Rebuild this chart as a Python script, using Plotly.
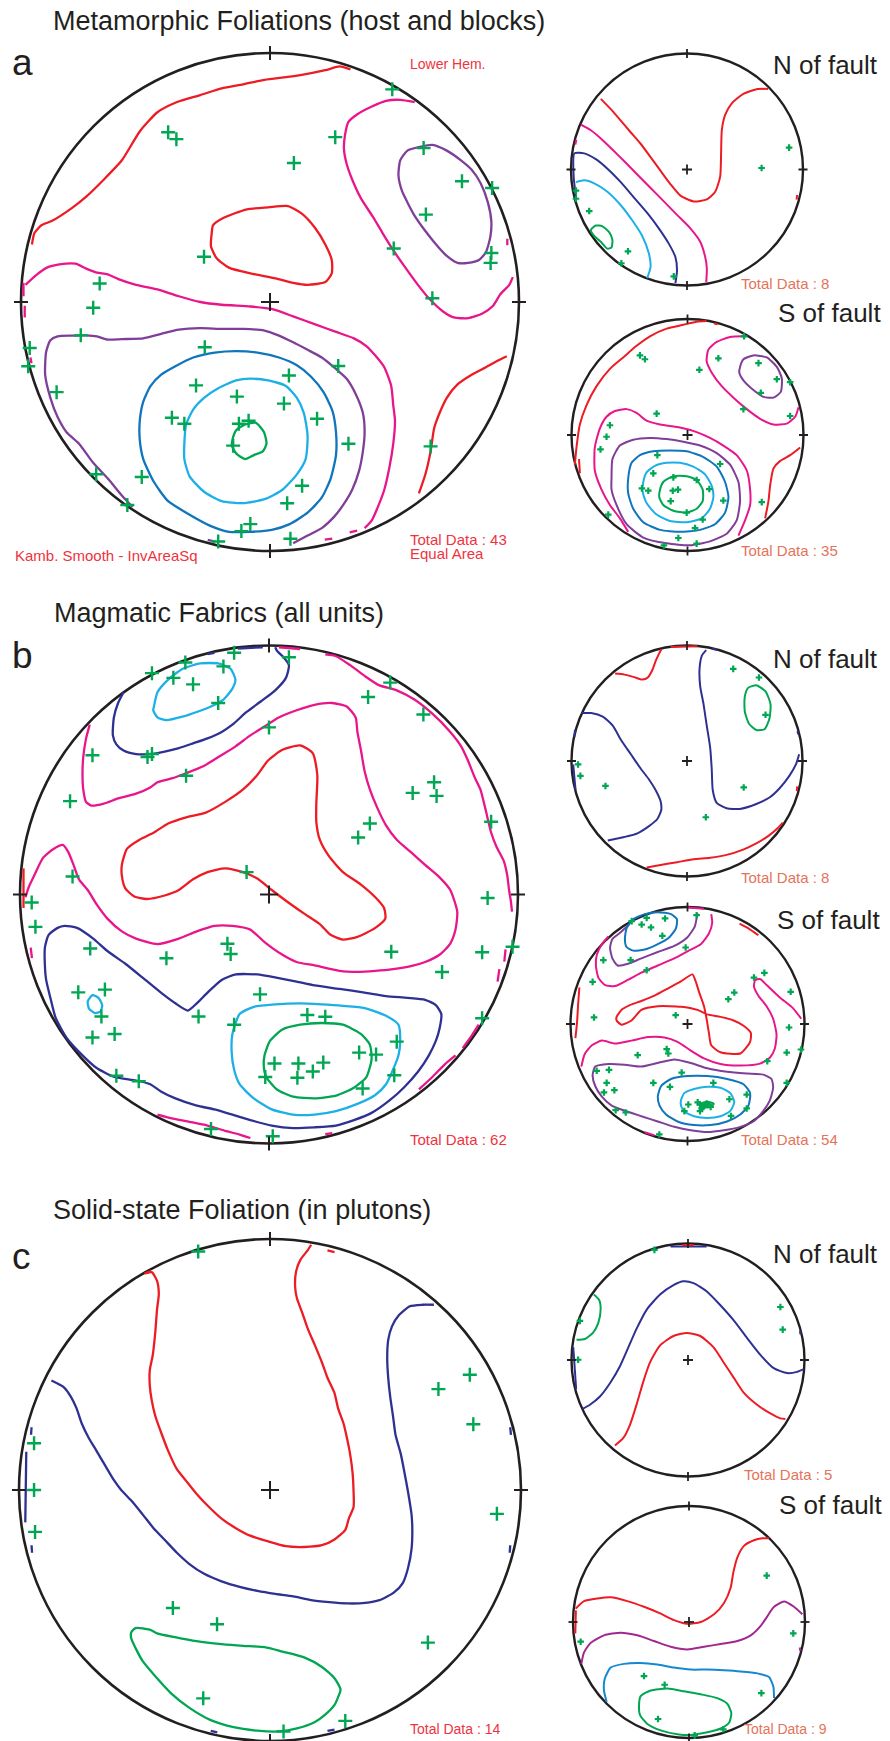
import plotly.graph_objects as go

W, H = 890, 1741

# Colours of the Kamb contour levels and of the data poles
RED = "#ed1c24"
MAGENTA = "#e8168a"
PURPLE = "#7f3f98"
PURPLE2 = "#a1288f"
NAVY = "#2e3192"
BLUE = "#0f75bc"
BLUE2 = "#1488d1"
CYAN = "#1cb0e6"
GREEN = "#00a651"
INK = "#231f20"
NOTE_RED = "#ee3340"
NOTE_ORANGE = "#e5735a"

# ------------------------------------------------------------------
# Net a : metamorphic foliations (all), coordinates in the unit net
# ------------------------------------------------------------------
A_RED_1 = [(-0.956, 0.231), (-0.946, 0.277), (-0.918, 0.308), (-0.875, 0.326), (-0.796, 0.377), (-0.738, 0.423),
           (-0.667, 0.492), (-0.595, 0.569), (-0.523, 0.685), (-0.452, 0.762), (-0.373, 0.803), (-0.280, 0.831),
           (-0.194, 0.858), (-0.108, 0.874), (-0.022, 0.892), (0.065, 0.903), (0.122, 0.911), (0.222, 0.931),
           (0.280, 0.946), (0.323, 0.934)]
A_RED_2 = [(-0.229, 0.308), (-0.186, 0.338), (-0.093, 0.372), (-0.007, 0.380), (0.072, 0.385), (0.129, 0.354),
           (0.179, 0.300), (0.222, 0.231), (0.248, 0.169), (0.248, 0.115), (0.222, 0.080), (0.151, 0.069),
           (0.093, 0.077), (0.022, 0.095), (-0.079, 0.115), (-0.165, 0.138), (-0.215, 0.177), (-0.237, 0.223),
           (-0.234, 0.277)]
A_RED_3 = [(0.598, -0.769), (0.624, -0.692), (0.645, -0.600), (0.659, -0.508), (0.681, -0.446), (0.710, -0.385),
           (0.753, -0.331), (0.810, -0.292), (0.867, -0.262), (0.910, -0.238), (0.951, -0.218)]
A_MAG_1 = [(-0.982, 0.069), (-0.939, 0.108), (-0.896, 0.138), (-0.846, 0.151), (-0.781, 0.154), (-0.738, 0.134),
           (-0.695, 0.118), (-0.652, 0.111), (-0.609, 0.092), (-0.538, 0.069), (-0.452, 0.051), (-0.366, 0.023),
           (-0.280, 0.0), (-0.194, -0.011), (-0.079, -0.018), (0.007, -0.028), (0.093, -0.058), (0.179, -0.089),
           (0.265, -0.120), (0.337, -0.146), (0.387, -0.177), (0.423, -0.215), (0.459, -0.262), (0.487, -0.338),
           (0.495, -0.415), (0.502, -0.477), (0.495, -0.569), (0.480, -0.662), (0.459, -0.754), (0.430, -0.831),
           (0.409, -0.877), (0.380, -0.908)]
A_MAG_2 = [(0.581, 0.803), (0.523, 0.812), (0.466, 0.808), (0.409, 0.785), (0.351, 0.754), (0.315, 0.723),
           (0.301, 0.669), (0.297, 0.615), (0.308, 0.554), (0.330, 0.492), (0.366, 0.415), (0.416, 0.338),
           (0.452, 0.277), (0.495, 0.208), (0.538, 0.146), (0.588, 0.077), (0.638, 0.015), (0.695, -0.038),
           (0.738, -0.062), (0.796, -0.065), (0.853, -0.046), (0.896, -0.015), (0.925, 0.031), (0.961, 0.069),
           (0.975, 0.100)]
A_PUR_1 = [(0.523, 0.569), (0.552, 0.608), (0.602, 0.623), (0.652, 0.631), (0.710, 0.608), (0.767, 0.569),
           (0.810, 0.531), (0.846, 0.477), (0.875, 0.400), (0.889, 0.323), (0.885, 0.262), (0.867, 0.200),
           (0.839, 0.169), (0.796, 0.157), (0.753, 0.157), (0.710, 0.185), (0.667, 0.231), (0.624, 0.285),
           (0.581, 0.346), (0.552, 0.400), (0.530, 0.446), (0.516, 0.508)]
A_PUR_2 = [(-0.552, -0.823), (-0.595, -0.777), (-0.652, -0.708), (-0.710, -0.646), (-0.767, -0.569), (-0.817, -0.523),
           (-0.853, -0.462), (-0.882, -0.385), (-0.903, -0.292), (-0.899, -0.200), (-0.882, -0.154), (-0.853, -0.138),
           (-0.796, -0.135), (-0.738, -0.134), (-0.695, -0.138), (-0.652, -0.151), (-0.595, -0.149), (-0.509, -0.146),
           (-0.437, -0.128), (-0.366, -0.111), (-0.280, -0.105), (-0.194, -0.108), (-0.108, -0.108), (-0.022, -0.115),
           (0.036, -0.135), (0.093, -0.162), (0.151, -0.192), (0.208, -0.223), (0.265, -0.269), (0.308, -0.308),
           (0.344, -0.369), (0.373, -0.446), (0.380, -0.523), (0.373, -0.600), (0.358, -0.677), (0.330, -0.754),
           (0.294, -0.815), (0.258, -0.862), (0.208, -0.908), (0.151, -0.938), (0.093, -0.969)]
A_BLU = [(-0.523, -0.477), (-0.509, -0.400), (-0.480, -0.338), (-0.437, -0.292), (-0.380, -0.258), (-0.308, -0.223),
         (-0.222, -0.203), (-0.136, -0.197), (-0.050, -0.203), (0.036, -0.223), (0.108, -0.254), (0.165, -0.300),
         (0.215, -0.362), (0.251, -0.438), (0.265, -0.523), (0.265, -0.615), (0.244, -0.708), (0.208, -0.785),
         (0.151, -0.846), (0.079, -0.892), (0.007, -0.915), (-0.079, -0.923), (-0.165, -0.923), (-0.237, -0.900),
         (-0.323, -0.854), (-0.409, -0.800), (-0.466, -0.723), (-0.509, -0.631), (-0.523, -0.554)]
A_CYA = [(-0.344, -0.569), (-0.337, -0.492), (-0.308, -0.431), (-0.265, -0.385), (-0.208, -0.346), (-0.136, -0.315),
         (-0.079, -0.308), (-0.007, -0.315), (0.065, -0.338), (0.108, -0.385), (0.136, -0.446), (0.151, -0.538),
         (0.143, -0.631), (0.108, -0.692), (0.050, -0.754), (-0.022, -0.792), (-0.108, -0.808), (-0.194, -0.800),
         (-0.265, -0.762), (-0.323, -0.700), (-0.344, -0.631)]
A_GRN = [(-0.151, -0.554), (-0.136, -0.515), (-0.100, -0.492), (-0.057, -0.485), (-0.024, -0.523), (-0.014, -0.569),
         (-0.029, -0.600), (-0.065, -0.615), (-0.100, -0.631), (-0.136, -0.608), (-0.153, -0.577)]
A_EDGE_MAG = [[(-0.990, 0.077), (-0.990, 0.023)], [(-0.985, -0.015), (-0.985, -0.062)],
              [(-0.962, -0.223), (-0.958, -0.246)], [(0.953, 0.254), (0.953, 0.228)],
              [(0.220, -0.954), (0.250, -0.950)], [(0.320, -0.925), (0.350, -0.918)]]
A_EDGE_PUR = [[(-0.250, -0.955), (-0.220, -0.962)]]
A_POLES = [(0.491, 0.854), (-0.409, 0.682), (-0.376, 0.654), (0.262, 0.662), (0.096, 0.558), (0.617, 0.618),
           (0.771, 0.485), (0.892, 0.458), (0.626, 0.351), (0.497, 0.215), (-0.265, 0.182), (0.889, 0.197),
           (0.886, 0.157), (0.652, 0.015), (-0.684, 0.074), (-0.710, -0.023), (-0.760, -0.134), (-0.965, -0.185),
           (-0.971, -0.258), (-0.857, -0.362), (-0.262, -0.182), (0.076, -0.295), (0.274, -0.257), (-0.297, -0.335),
           (-0.133, -0.380), (0.056, -0.408), (0.189, -0.469), (-0.394, -0.465), (-0.344, -0.489), (-0.125, -0.489),
           (-0.086, -0.477), (-0.148, -0.577), (0.315, -0.569), (0.645, -0.580), (-0.698, -0.692), (-0.515, -0.703),
           (0.129, -0.738), (0.069, -0.808), (-0.573, -0.815), (-0.079, -0.892), (-0.115, -0.920), (-0.208, -0.962),
           (0.082, -0.951)]

# Net a, north of fault
AN_RED = [(-0.743, 0.609), (-0.657, 0.520), (-0.571, 0.421), (-0.486, 0.321), (-0.400, 0.222), (-0.314, 0.106),
          (-0.229, -0.010), (-0.143, -0.126), (-0.057, -0.225), (0.057, -0.275), (0.171, -0.258), (0.243, -0.192),
          (0.286, -0.060), (0.294, 0.139), (0.300, 0.338), (0.329, 0.470), (0.386, 0.570), (0.486, 0.652),
          (0.600, 0.692), (0.700, 0.695)]
AN_MAG = [(-0.914, 0.387), (-0.829, 0.338), (-0.729, 0.255), (-0.643, 0.172), (-0.543, 0.073), (-0.429, -0.043),
          (-0.314, -0.159), (-0.200, -0.275), (-0.086, -0.391), (0.029, -0.507), (0.114, -0.623), (0.157, -0.755),
          (0.171, -0.854), (0.166, -0.970)]
AN_NAV = [(-0.955, -0.250), (-0.977, -0.060), (-0.971, 0.139), (-0.886, 0.139), (-0.786, 0.089), (-0.686, 0.007),
          (-0.571, -0.109), (-0.457, -0.242), (-0.343, -0.374), (-0.243, -0.507), (-0.157, -0.639), (-0.100, -0.755),
          (-0.086, -0.871), (-0.100, -0.980)]
AN_CYA = [(-0.957, -0.109), (-0.886, -0.093), (-0.800, -0.119), (-0.686, -0.192), (-0.571, -0.308), (-0.471, -0.440),
          (-0.386, -0.573), (-0.329, -0.722), (-0.314, -0.838), (-0.343, -0.937)]
AN_GRN = [(-0.829, -0.523), (-0.786, -0.483), (-0.729, -0.490), (-0.671, -0.540), (-0.643, -0.606), (-0.651, -0.672),
          (-0.686, -0.682), (-0.743, -0.623), (-0.800, -0.573)]
AN_EDGE_RED = [[(0.949, -0.220), (0.945, -0.260)]]
AN_EDGE_MAG = [[(-0.955, 0.255), (-0.962, 0.215)]]
AN_POLES = [(0.880, 0.189), (0.643, 0.013), (-0.957, -0.182), (-0.957, -0.252), (-0.843, -0.358), (-0.509, -0.705),
            (-0.566, -0.808), (-0.114, -0.921)]

# Net a, south of fault
AS_RED_1 = [(-0.971, -0.256), (-0.957, -0.107), (-0.928, 0.091), (-0.871, 0.256), (-0.784, 0.421), (-0.669, 0.570),
            (-0.554, 0.669), (-0.439, 0.769), (-0.324, 0.851), (-0.180, 0.917), (-0.036, 0.950), (0.079, 0.977),
            (0.165, 0.983)]
AS_RED_2 = [(0.669, -0.719), (0.698, -0.570), (0.712, -0.438), (0.741, -0.289), (0.799, -0.223), (0.885, -0.174),
            (0.971, -0.107)]
AS_MAG_1 = [(0.482, 0.851), (0.367, 0.845), (0.252, 0.802), (0.180, 0.736), (0.165, 0.636), (0.209, 0.537),
            (0.295, 0.421), (0.396, 0.322), (0.511, 0.223), (0.626, 0.140), (0.741, 0.091), (0.856, 0.098),
            (0.928, 0.157), (0.957, 0.240)]
AS_MAG_2 = [(-0.511, -0.835), (-0.583, -0.719), (-0.669, -0.603), (-0.741, -0.471), (-0.799, -0.306), (-0.799, -0.107),
            (-0.755, 0.058), (-0.698, 0.157), (-0.626, 0.207), (-0.525, 0.223), (-0.439, 0.190), (-0.353, 0.124),
            (-0.237, 0.091), (-0.065, 0.064), (0.079, 0.025), (0.194, -0.025), (0.309, -0.091), (0.424, -0.174),
            (0.511, -0.306), (0.540, -0.471), (0.540, -0.603), (0.496, -0.736), (0.439, -0.868)]
AS_PUR_1 = [(0.453, 0.587), (0.482, 0.653), (0.568, 0.686), (0.683, 0.669), (0.770, 0.587), (0.813, 0.488),
            (0.804, 0.372), (0.741, 0.322), (0.655, 0.329), (0.568, 0.388), (0.482, 0.471), (0.447, 0.537)]
AS_PUR_2 = [(-0.655, -0.372), (-0.647, -0.207), (-0.583, -0.091), (-0.468, -0.041), (-0.324, -0.025), (-0.180, -0.035),
            (-0.036, -0.058), (0.108, -0.091), (0.252, -0.157), (0.367, -0.256), (0.439, -0.405), (0.453, -0.570),
            (0.424, -0.736), (0.338, -0.851), (0.194, -0.917), (0.022, -0.950), (-0.180, -0.934), (-0.381, -0.884),
            (-0.525, -0.769), (-0.612, -0.603), (-0.655, -0.471)]
AS_BLU = [(-0.511, -0.372), (-0.482, -0.240), (-0.410, -0.174), (-0.295, -0.140), (-0.151, -0.134), (-0.007, -0.140),
          (0.137, -0.190), (0.252, -0.273), (0.324, -0.405), (0.353, -0.537), (0.324, -0.669), (0.237, -0.769),
          (0.108, -0.818), (-0.065, -0.835), (-0.237, -0.818), (-0.381, -0.752), (-0.468, -0.636), (-0.511, -0.504)]
AS_CYA = [(-0.381, -0.405), (-0.353, -0.322), (-0.281, -0.266), (-0.180, -0.240), (-0.065, -0.240), (0.050, -0.273),
          (0.151, -0.339), (0.209, -0.438), (0.223, -0.537), (0.194, -0.636), (0.122, -0.719), (-0.007, -0.752),
          (-0.151, -0.742), (-0.266, -0.686), (-0.353, -0.587), (-0.387, -0.488)]
AS_GRN = [(-0.237, -0.471), (-0.209, -0.405), (-0.122, -0.355), (-0.007, -0.355), (0.079, -0.388), (0.131, -0.471),
          (0.131, -0.570), (0.079, -0.636), (-0.007, -0.669), (-0.122, -0.653), (-0.209, -0.603), (-0.243, -0.537)]
AS_EDGE_RED = [[(-0.935, -0.207), (-0.928, -0.330)], [(0.230, 0.962), (0.260, 0.955)]]
AS_POLES = [(-0.410, 0.686), (-0.367, 0.653), (0.102, 0.562), (0.266, 0.661), (0.488, 0.851), (0.612, 0.620),
            (0.770, 0.481), (0.885, 0.455), (0.632, 0.364), (0.482, 0.223), (0.885, 0.164), (-0.266, 0.184),
            (-0.669, 0.084), (-0.698, -0.015), (-0.750, -0.124), (-0.260, -0.174), (0.281, -0.250), (-0.295, -0.331),
            (-0.393, -0.460), (-0.338, -0.480), (-0.122, -0.365), (0.079, -0.388), (-0.127, -0.480), (-0.082, -0.471),
            (-0.145, -0.570), (0.188, -0.466), (0.309, -0.565), (0.640, -0.579), (0.131, -0.729), (0.065, -0.802),
            (-0.683, -0.686), (-0.079, -0.888), (0.079, -0.936), (-0.203, -0.952), (-0.007, -0.669)]

# ------------------------------------------------------------------
# Net b : magmatic fabrics
# ------------------------------------------------------------------
B_RED = [(-0.591, 0.119), (-0.570, 0.184), (-0.520, 0.220), (-0.462, 0.249), (-0.405, 0.285), (-0.333, 0.310),
         (-0.254, 0.329), (-0.176, 0.372), (-0.104, 0.422), (-0.047, 0.480), (-0.004, 0.538), (0.054, 0.581),
         (0.125, 0.599), (0.176, 0.567), (0.194, 0.480), (0.190, 0.365), (0.190, 0.292), (0.204, 0.220),
         (0.240, 0.155), (0.297, 0.090), (0.369, 0.040), (0.427, -0.011), (0.462, -0.054), (0.467, -0.097),
         (0.427, -0.134), (0.355, -0.170), (0.297, -0.181), (0.247, -0.162), (0.204, -0.119), (0.140, -0.076),
         (0.068, -0.025), (0.011, 0.018), (-0.047, 0.064), (-0.104, 0.090), (-0.176, 0.105), (-0.247, 0.090),
         (-0.305, 0.061), (-0.362, 0.018), (-0.419, -0.004), (-0.491, -0.018), (-0.541, -0.008), (-0.577, 0.025),
         (-0.591, 0.076)]
B_MAG_1 = [(-0.720, 0.682), (-0.735, 0.625), (-0.746, 0.552), (-0.749, 0.480), (-0.746, 0.422), (-0.735, 0.372),
           (-0.713, 0.357), (-0.663, 0.365), (-0.606, 0.386), (-0.534, 0.405), (-0.477, 0.430), (-0.448, 0.451),
           (-0.391, 0.466), (-0.333, 0.487), (-0.262, 0.516), (-0.190, 0.560), (-0.133, 0.596), (-0.075, 0.639),
           (-0.018, 0.675), (0.039, 0.711), (0.111, 0.740), (0.183, 0.762), (0.254, 0.769), (0.312, 0.755),
           (0.348, 0.711), (0.355, 0.653), (0.369, 0.581), (0.384, 0.495), (0.405, 0.422), (0.434, 0.350),
           (0.470, 0.278), (0.513, 0.220), (0.570, 0.170), (0.627, 0.119), (0.685, 0.069), (0.728, 0.018),
           (0.756, -0.069), (0.749, -0.141), (0.728, -0.197), (0.685, -0.242), (0.627, -0.271), (0.570, -0.288),
           (0.498, -0.300), (0.427, -0.307), (0.355, -0.311), (0.283, -0.307), (0.183, -0.285), (0.111, -0.271),
           (0.054, -0.242), (-0.018, -0.191), (-0.075, -0.141), (-0.147, -0.126), (-0.219, -0.126), (-0.290, -0.148),
           (-0.362, -0.177), (-0.448, -0.199), (-0.534, -0.177), (-0.591, -0.148), (-0.649, -0.097), (-0.692, -0.040),
           (-0.728, 0.018), (-0.763, 0.061), (-0.785, 0.119), (-0.806, 0.170), (-0.828, 0.199), (-0.864, 0.184),
           (-0.907, 0.148), (-0.943, 0.076), (-0.964, 0.032), (-0.978, -0.011)]
B_MAG_2 = [(0.226, 0.964), (0.269, 0.957), (0.326, 0.921), (0.384, 0.878), (0.441, 0.841), (0.513, 0.820),
           (0.584, 0.783), (0.656, 0.726), (0.728, 0.653), (0.771, 0.596), (0.799, 0.538), (0.828, 0.466),
           (0.849, 0.422), (0.871, 0.336), (0.892, 0.249), (0.914, 0.191), (0.943, 0.134), (0.957, 0.076),
           (0.964, 0.018), (0.971, -0.025), (0.976, -0.069)]
B_MAG_3 = [(0.602, -0.783), (0.656, -0.733), (0.706, -0.682), (0.749, -0.646)]
B_MAG_4 = [(0.778, -0.617), (0.814, -0.567), (0.842, -0.523)]
B_MAG_5 = [(-0.448, -0.884), (-0.391, -0.899), (-0.319, -0.913), (-0.247, -0.928), (-0.176, -0.949), (-0.118, -0.964),
           (-0.075, -0.978)]
B_NAV_1 = [(-0.584, 0.812), (-0.606, 0.769), (-0.623, 0.711), (-0.627, 0.639), (-0.613, 0.603), (-0.584, 0.578),
           (-0.534, 0.564), (-0.477, 0.564), (-0.419, 0.574), (-0.362, 0.588), (-0.305, 0.607), (-0.247, 0.627),
           (-0.190, 0.653), (-0.147, 0.682), (-0.090, 0.733), (-0.032, 0.776), (0.025, 0.820), (0.068, 0.870),
           (0.080, 0.921), (0.061, 0.950), (0.032, 0.979), (0.025, 0.993)]
B_NAV_2 = [(-0.900, -0.285), (-0.900, -0.213), (-0.885, -0.162), (-0.849, -0.134), (-0.821, -0.126), (-0.771, -0.134),
           (-0.706, -0.177), (-0.649, -0.227), (-0.577, -0.278), (-0.505, -0.336), (-0.434, -0.394), (-0.376, -0.437),
           (-0.326, -0.466), (-0.290, -0.437), (-0.247, -0.394), (-0.190, -0.343), (-0.133, -0.321), (-0.047, -0.321),
           (0.039, -0.336), (0.111, -0.350), (0.183, -0.365), (0.283, -0.379), (0.384, -0.394), (0.470, -0.408),
           (0.556, -0.415), (0.627, -0.423), (0.670, -0.444), (0.692, -0.480), (0.685, -0.538), (0.670, -0.588),
           (0.642, -0.646), (0.599, -0.711), (0.541, -0.776), (0.484, -0.827), (0.412, -0.877), (0.341, -0.906),
           (0.269, -0.928), (0.183, -0.935), (0.097, -0.938), (0.011, -0.928), (-0.075, -0.906), (-0.147, -0.884),
           (-0.219, -0.863), (-0.290, -0.848), (-0.376, -0.819), (-0.434, -0.791), (-0.477, -0.762), (-0.534, -0.747),
           (-0.620, -0.733), (-0.692, -0.697), (-0.763, -0.632), (-0.814, -0.574), (-0.857, -0.495), (-0.878, -0.415),
           (-0.895, -0.343)]
B_CYA_1 = [(-0.462, 0.755), (-0.448, 0.812), (-0.405, 0.863), (-0.348, 0.906), (-0.276, 0.928), (-0.204, 0.928),
           (-0.154, 0.906), (-0.135, 0.863), (-0.147, 0.827), (-0.183, 0.783), (-0.233, 0.755), (-0.290, 0.733),
           (-0.348, 0.714), (-0.412, 0.700), (-0.448, 0.711), (-0.465, 0.740)]
B_CYA_2 = [(-0.728, -0.430), (-0.709, -0.404), (-0.685, -0.415), (-0.670, -0.444), (-0.677, -0.470), (-0.699, -0.476),
           (-0.723, -0.458)]
B_CYA_3 = [(-0.147, -0.560), (-0.118, -0.480), (-0.061, -0.451), (0.025, -0.441), (0.125, -0.437), (0.211, -0.441),
           (0.297, -0.447), (0.384, -0.456), (0.470, -0.487), (0.520, -0.523), (0.527, -0.588), (0.520, -0.646),
           (0.498, -0.704), (0.470, -0.762), (0.427, -0.805), (0.355, -0.841), (0.269, -0.870), (0.183, -0.884),
           (0.097, -0.884), (0.011, -0.863), (-0.061, -0.819), (-0.118, -0.762), (-0.140, -0.704), (-0.150, -0.632)]
B_GRN = [(-0.018, -0.646), (0.004, -0.588), (0.054, -0.542), (0.125, -0.523), (0.211, -0.516), (0.297, -0.523),
         (0.369, -0.560), (0.405, -0.603), (0.412, -0.661), (0.391, -0.733), (0.341, -0.776), (0.269, -0.808),
         (0.183, -0.819), (0.097, -0.812), (0.032, -0.783), (-0.011, -0.733), (-0.021, -0.690)]
B_EDGE_NAV = [[(-0.125, 0.988), (-0.025, 0.993)], [(-0.247, 0.965), (-0.219, 0.970)]]
B_EDGE_MAG = [[(0.040, 0.993), (0.125, 0.986)], [(-0.957, -0.213), (-0.952, -0.256)],
              [(0.950, -0.220), (0.945, -0.270)], [(0.925, -0.300), (0.918, -0.350)],
              [(0.226, -0.962), (0.254, -0.958)]]
B_EDGE_RED = [[(-0.986, 0.105), (-0.986, -0.054)]]
B_POLES = [(-0.140, 0.971), (0.080, 0.953), (-0.336, 0.932), (-0.470, 0.889), (-0.384, 0.870), (-0.183, 0.916),
           (-0.305, 0.844), (-0.204, 0.769), (0.487, 0.851), (0.398, 0.793), (0.620, 0.723), (0.000, 0.671),
           (-0.709, 0.559), (-0.488, 0.552), (-0.470, 0.564), (-0.333, 0.477), (-0.799, 0.375), (0.663, 0.451),
           (0.577, 0.408), (0.673, 0.396), (0.892, 0.292), (0.405, 0.285), (0.358, 0.229), (-0.090, 0.090),
           (-0.789, 0.072), (-0.953, -0.032), (0.878, -0.014), (-0.938, -0.130), (0.978, -0.210), (-0.718, -0.217),
           (-0.167, -0.198), (-0.154, -0.239), (-0.412, -0.256), (0.491, -0.230), (0.856, -0.232), (0.695, -0.311),
           (-0.766, -0.393), (-0.659, -0.382), (-0.036, -0.401), (-0.673, -0.490), (-0.283, -0.490), (0.154, -0.484),
           (0.226, -0.491), (-0.140, -0.523), (0.856, -0.497), (-0.709, -0.574), (-0.620, -0.560), (0.513, -0.591),
           (0.362, -0.635), (0.430, -0.643), (0.022, -0.679), (0.118, -0.679), (0.218, -0.675), (0.176, -0.711),
           (-0.015, -0.733), (0.114, -0.736), (0.503, -0.726), (0.376, -0.779), (-0.613, -0.728), (-0.523, -0.750),
           (-0.233, -0.942), (0.015, -0.971)]

# Net b, north of fault
BN_RED_1 = [(-0.623, 0.757), (-0.543, 0.748), (-0.457, 0.726), (-0.386, 0.705), (-0.337, 0.726), (-0.300, 0.788),
            (-0.271, 0.866), (-0.243, 0.928), (-0.223, 0.966)]
BN_RED_2 = [(-0.349, -0.922), (-0.229, -0.900), (-0.086, -0.876), (0.057, -0.851), (0.200, -0.838), (0.343, -0.813),
            (0.486, -0.767), (0.600, -0.714), (0.714, -0.642), (0.786, -0.580), (0.829, -0.533)]
BN_NAV_1 = [(-0.914, 0.415), (-0.829, 0.415), (-0.729, 0.384), (-0.643, 0.306), (-0.571, 0.182), (-0.486, 0.058),
            (-0.400, -0.067), (-0.329, -0.160), (-0.271, -0.253), (-0.229, -0.347), (-0.223, -0.424), (-0.257, -0.502),
            (-0.329, -0.564), (-0.429, -0.626), (-0.543, -0.658), (-0.686, -0.689)]
BN_NAV_2 = [(0.166, 0.960), (0.129, 0.913), (0.109, 0.804), (0.114, 0.649), (0.143, 0.493), (0.171, 0.306),
            (0.200, 0.120), (0.214, -0.067), (0.223, -0.253), (0.257, -0.362), (0.343, -0.409), (0.457, -0.415),
            (0.600, -0.372), (0.714, -0.316), (0.800, -0.238), (0.886, -0.129), (0.943, -0.030), (0.971, 0.058)]
BN_GRN = [(0.500, 0.555), (0.529, 0.633), (0.600, 0.655), (0.680, 0.602), (0.723, 0.493), (0.714, 0.369),
          (0.671, 0.275), (0.600, 0.269), (0.537, 0.322), (0.500, 0.431)]
BN_EDGE_RED = [[(-0.140, 0.988), (0.090, 0.994)], [(0.955, -0.220), (0.950, -0.260)]]
BN_EDGE_NAV = [[(-0.970, 0.270), (-0.975, 0.210)], [(-0.985, -0.030), (-0.965, -0.250)],
               [(0.215, 0.972), (0.260, 0.962)], [(0.957, 0.260), (0.962, 0.230)]]
BN_POLES = [(0.400, 0.798), (0.623, 0.723), (0.680, 0.400), (-0.943, -0.030), (-0.923, -0.129), (-0.706, -0.216),
            (0.491, -0.229), (0.163, -0.487)]

# Net b, south of fault
BS_RED_1 = [(-0.606, 0.061), (-0.563, 0.121), (-0.493, 0.161), (-0.394, 0.197), (-0.282, 0.242), (-0.169, 0.303),
            (-0.056, 0.364), (0.042, 0.424), (0.070, 0.364), (0.099, 0.273), (0.141, 0.152), (0.163, 0.045),
            (0.183, -0.076), (0.203, -0.182), (0.282, -0.242), (0.451, -0.252), (0.535, -0.152), (0.541, -0.076),
            (0.479, -0.015), (0.394, 0.030), (0.282, 0.061), (0.169, 0.082), (0.085, 0.121), (-0.056, 0.148),
            (-0.254, 0.152), (-0.394, 0.121), (-0.479, 0.030), (-0.563, -0.006), (-0.606, 0.030)]
BS_RED_2 = [(-0.924, 0.312), (-0.935, 0.167), (-0.944, 0.015), (-0.958, -0.121)]
BS_RED_3 = [(0.445, 0.858), (0.521, 0.818), (0.606, 0.758)]
BS_MAG_1 = [(0.203, 0.939), (0.211, 0.864), (0.183, 0.773), (0.113, 0.682), (0.000, 0.621), (-0.113, 0.561),
            (-0.254, 0.500), (-0.394, 0.439), (-0.507, 0.379), (-0.620, 0.324), (-0.704, 0.333), (-0.761, 0.394),
            (-0.783, 0.500), (-0.775, 0.591), (-0.732, 0.682), (-0.676, 0.748)]
BS_MAG_2 = [(0.972, 0.045), (0.901, 0.136), (0.789, 0.227), (0.676, 0.333), (0.620, 0.385), (0.577, 0.373),
            (0.569, 0.318), (0.606, 0.242), (0.676, 0.152), (0.732, 0.045), (0.761, -0.091), (0.746, -0.212),
            (0.704, -0.288), (0.620, -0.339), (0.451, -0.355), (0.282, -0.342), (0.141, -0.294), (0.028, -0.227),
            (-0.085, -0.152), (-0.197, -0.115), (-0.338, -0.112), (-0.479, -0.142), (-0.620, -0.167), (-0.732, -0.142),
            (-0.817, -0.182), (-0.879, -0.258), (-0.907, -0.364)]
BS_PUR_1 = [(0.085, 0.948), (0.062, 0.833), (0.000, 0.742), (-0.113, 0.667), (-0.254, 0.615), (-0.394, 0.561),
            (-0.507, 0.515), (-0.597, 0.500), (-0.642, 0.561), (-0.662, 0.652), (-0.642, 0.727), (-0.577, 0.779),
            (-0.501, 0.848)]
BS_PUR_2 = [(-0.811, -0.439), (-0.789, -0.364), (-0.676, -0.342), (-0.535, -0.348), (-0.394, -0.364), (-0.254, -0.333),
            (-0.113, -0.303), (0.028, -0.333), (0.169, -0.379), (0.338, -0.409), (0.507, -0.424), (0.648, -0.433),
            (0.718, -0.470), (0.732, -0.545), (0.704, -0.652), (0.648, -0.742), (0.563, -0.833), (0.451, -0.879),
            (0.310, -0.909), (0.169, -0.924), (0.028, -0.909), (-0.113, -0.879), (-0.254, -0.833), (-0.394, -0.788),
            (-0.535, -0.742), (-0.648, -0.697), (-0.732, -0.621), (-0.789, -0.530)]
BS_BLU_1 = [(-0.535, 0.727), (-0.521, 0.818), (-0.465, 0.894), (-0.366, 0.939), (-0.254, 0.955), (-0.141, 0.939),
            (-0.090, 0.894), (-0.099, 0.818), (-0.155, 0.742), (-0.254, 0.682), (-0.366, 0.636), (-0.465, 0.627),
            (-0.521, 0.658)]
BS_BLU_2 = [(-0.254, -0.621), (-0.225, -0.530), (-0.141, -0.470), (0.000, -0.445), (0.169, -0.445), (0.338, -0.470),
            (0.479, -0.515), (0.535, -0.591), (0.521, -0.697), (0.451, -0.773), (0.338, -0.833), (0.197, -0.864),
            (0.056, -0.864), (-0.085, -0.833), (-0.183, -0.773), (-0.239, -0.697)]
BS_CYA = [(-0.056, -0.652), (-0.028, -0.591), (0.056, -0.555), (0.169, -0.536), (0.282, -0.545), (0.366, -0.591),
          (0.400, -0.667), (0.366, -0.742), (0.282, -0.788), (0.169, -0.803), (0.056, -0.788), (-0.028, -0.748),
          (-0.056, -0.697)]
BS_GRN = [(0.113, -0.682), (0.169, -0.664), (0.225, -0.682), (0.183, -0.712), (0.127, -0.706)]
BS_EDGE_MAG = [[(-0.366, -0.925), (-0.282, -0.952)], [(0.000, 0.995), (0.140, 0.985)]]
BS_POLES = [(-0.477, 0.879), (-0.349, 0.907), (-0.392, 0.850), (-0.192, 0.902), (-0.312, 0.825), (-0.215, 0.754),
            (0.078, 0.930), (-0.016, 0.654), (-0.486, 0.546), (-0.719, 0.546), (-0.349, 0.460), (-0.811, 0.360),
            (0.568, 0.397), (0.657, 0.437), (0.349, 0.212), (0.400, 0.269), (0.882, 0.275), (-0.799, 0.056),
            (-0.101, 0.075), (0.868, -0.030), (-0.178, -0.215), (-0.164, -0.252), (-0.426, -0.266), (0.848, -0.244),
            (0.970, -0.218), (0.682, -0.318), (-0.776, -0.400), (-0.671, -0.392), (-0.050, -0.415), (-0.292, -0.503),
            (-0.150, -0.537), (0.221, -0.503), (-0.691, -0.503), (-0.625, -0.566), (-0.714, -0.585), (0.848, -0.503),
            (0.506, -0.603), (0.358, -0.643), (0.007, -0.688), (0.107, -0.688), (0.150, -0.694), (0.178, -0.688),
            (0.198, -0.708), (0.135, -0.708), (-0.027, -0.745), (0.107, -0.745), (0.372, -0.786), (-0.614, -0.736),
            (-0.528, -0.756), (-0.241, -0.944), (0.506, -0.722), (0.121, -0.722), (0.164, -0.680), (0.087, -0.670)]

# ------------------------------------------------------------------
# Net c : solid-state foliation in plutons
# ------------------------------------------------------------------
C_RED = [(-0.493, 0.864), (-0.471, 0.868), (-0.450, 0.833), (-0.443, 0.780), (-0.450, 0.720), (-0.457, 0.629),
         (-0.467, 0.538), (-0.479, 0.477), (-0.479, 0.417), (-0.471, 0.356), (-0.457, 0.295), (-0.436, 0.235),
         (-0.407, 0.159), (-0.371, 0.083), (-0.329, 0.030), (-0.293, -0.015), (-0.250, -0.061), (-0.193, -0.114),
         (-0.136, -0.152), (-0.079, -0.182), (-0.007, -0.205), (0.064, -0.224), (0.136, -0.227), (0.207, -0.220),
         (0.257, -0.197), (0.300, -0.159), (0.314, -0.114), (0.333, -0.068), (0.333, -0.008), (0.329, 0.068),
         (0.319, 0.144), (0.307, 0.205), (0.293, 0.265), (0.271, 0.326), (0.257, 0.386), (0.229, 0.447),
         (0.207, 0.508), (0.179, 0.576), (0.150, 0.644), (0.129, 0.705), (0.107, 0.765), (0.100, 0.811),
         (0.104, 0.871), (0.121, 0.917), (0.150, 0.955), (0.164, 0.977)]
C_NAV = [(-0.871, 0.436), (-0.821, 0.409), (-0.793, 0.371), (-0.771, 0.326), (-0.750, 0.265), (-0.721, 0.205),
         (-0.693, 0.159), (-0.657, 0.098), (-0.621, 0.038), (-0.593, 0.000), (-0.550, -0.045), (-0.507, -0.098),
         (-0.464, -0.152), (-0.421, -0.197), (-0.371, -0.250), (-0.321, -0.295), (-0.264, -0.333), (-0.193, -0.364),
         (-0.121, -0.386), (-0.050, -0.402), (0.021, -0.414), (0.093, -0.424), (0.164, -0.439), (0.236, -0.447),
         (0.307, -0.452), (0.379, -0.450), (0.436, -0.439), (0.493, -0.409), (0.529, -0.371), (0.550, -0.311),
         (0.564, -0.235), (0.567, -0.159), (0.564, -0.098), (0.550, -0.008), (0.536, 0.068), (0.521, 0.144),
         (0.500, 0.220), (0.490, 0.295), (0.479, 0.371), (0.471, 0.447), (0.467, 0.523), (0.471, 0.598),
         (0.486, 0.652), (0.514, 0.697), (0.557, 0.732), (0.607, 0.738), (0.653, 0.738)]
C_GRN = [(-0.553, -0.568), (-0.536, -0.550), (-0.479, -0.556), (-0.450, -0.571), (-0.379, -0.586), (-0.293, -0.602),
         (-0.193, -0.614), (-0.107, -0.621), (-0.021, -0.626), (0.050, -0.644), (0.136, -0.667), (0.207, -0.705),
         (0.257, -0.750), (0.281, -0.795), (0.271, -0.826), (0.257, -0.856), (0.221, -0.894), (0.179, -0.924),
         (0.107, -0.950), (0.036, -0.962), (-0.050, -0.959), (-0.150, -0.944), (-0.236, -0.917), (-0.321, -0.868),
         (-0.393, -0.811), (-0.450, -0.750), (-0.507, -0.682), (-0.536, -0.629), (-0.553, -0.591)]
C_EDGE_RED = [[(0.229, 0.955), (0.257, 0.948)], [(-0.500, 0.862), (-0.475, 0.872)]]
C_EDGE_NAV = [[(-0.971, 0.152), (-0.975, -0.129)], [(-0.950, 0.250), (-0.952, 0.220)],
              [(-0.950, -0.220), (-0.948, -0.250)], [(0.957, 0.250), (0.960, 0.220)],
              [(0.957, -0.220), (0.955, -0.250)], [(-0.236, -0.960), (-0.210, -0.966)],
              [(0.229, -0.960), (0.257, -0.955)]]
C_POLES = [(-0.286, 0.950), (0.796, 0.459), (0.671, 0.402), (0.810, 0.262), (-0.940, 0.186), (-0.940, 0.000),
           (-0.936, -0.167), (0.904, -0.095), (-0.387, -0.470), (-0.211, -0.535), (0.629, -0.608), (-0.266, -0.830),
           (0.300, -0.920), (0.054, -0.962)]

# Net c, north of fault
CN_NAV = [(-0.905, -0.420), (-0.842, -0.384), (-0.756, -0.313), (-0.670, -0.199), (-0.584, -0.053), (-0.512, 0.109),
          (-0.440, 0.271), (-0.354, 0.433), (-0.240, 0.562), (-0.125, 0.643), (-0.039, 0.676), (0.047, 0.660),
          (0.162, 0.588), (0.276, 0.472), (0.391, 0.342), (0.506, 0.190), (0.621, 0.044), (0.736, -0.070),
          (0.851, -0.112), (0.937, -0.102), (0.994, -0.079)]
CN_RED = [(-0.627, -0.734), (-0.555, -0.669), (-0.498, -0.556), (-0.440, -0.378), (-0.383, -0.183), (-0.326, -0.021),
          (-0.240, 0.125), (-0.125, 0.206), (-0.010, 0.232), (0.105, 0.206), (0.220, 0.109), (0.306, -0.021),
          (0.392, -0.151), (0.478, -0.280), (0.593, -0.384), (0.707, -0.459), (0.793, -0.501), (0.836, -0.507)]
CN_GRN = [(-0.808, 0.562), (-0.762, 0.514), (-0.750, 0.433), (-0.770, 0.319), (-0.813, 0.238), (-0.885, 0.180),
          (-0.957, 0.173)]
CN_EDGE_NAV = [[(-0.150, 0.975), (0.160, 0.975)], [(-0.985, 0.110), (-0.960, -0.250)], [(0.962, 0.250), (0.965, 0.220)]]
CN_EDGE_RED = [[(-0.050, 0.985), (0.050, 0.985)]]
CN_POLES = [(-0.288, 0.945), (0.793, 0.455), (0.813, 0.261), (-0.943, 0.002), (-0.928, 0.336)]

# Net c, south of fault
CS_RED = [(-0.977, 0.115), (-0.905, 0.180), (-0.790, 0.203), (-0.675, 0.213), (-0.532, 0.180), (-0.388, 0.131),
          (-0.244, 0.072), (-0.129, 0.016), (-0.014, -0.016), (0.101, 0.000), (0.216, 0.066), (0.302, 0.164),
          (0.359, 0.295), (0.382, 0.426), (0.417, 0.557), (0.474, 0.656), (0.560, 0.705), (0.632, 0.721),
          (0.690, 0.721)]
CS_PUR = [(-0.928, -0.361), (-0.905, -0.262), (-0.848, -0.180), (-0.733, -0.115), (-0.589, -0.092), (-0.445, -0.115),
          (-0.302, -0.164), (-0.158, -0.213), (-0.014, -0.236), (0.129, -0.213), (0.273, -0.190), (0.417, -0.164),
          (0.532, -0.115), (0.618, -0.033), (0.675, 0.049), (0.733, 0.131), (0.820, 0.177), (0.905, 0.131),
          (0.977, 0.066)]
CS_BLU = [(-0.710, -0.689), (-0.733, -0.590), (-0.727, -0.492), (-0.675, -0.393), (-0.560, -0.361), (-0.417, -0.354),
          (-0.273, -0.367), (-0.129, -0.393), (0.014, -0.410), (0.158, -0.410), (0.302, -0.416), (0.445, -0.426),
          (0.589, -0.443), (0.690, -0.475), (0.727, -0.557), (0.733, -0.656)]
CS_GRN = [(-0.431, -0.721), (-0.417, -0.639), (-0.330, -0.590), (-0.187, -0.574), (-0.043, -0.597), (0.101, -0.623),
          (0.244, -0.656), (0.330, -0.705), (0.365, -0.787), (0.345, -0.869), (0.273, -0.918), (0.158, -0.951),
          (0.014, -0.974), (-0.101, -0.967), (-0.244, -0.934), (-0.359, -0.879), (-0.422, -0.803)]
CS_EDGE_RED = [[(-0.975, 0.100), (-0.980, -0.100)]]
CS_EDGE_PUR = [[(0.955, -0.220), (0.960, -0.250)]]
CS_POLES = [(0.670, 0.400), (0.899, -0.098), (-0.934, -0.170), (-0.388, -0.466), (-0.210, -0.541), (0.624, -0.613),
            (-0.267, -0.836), (0.049, -0.977), (0.296, -0.925)]


def loop(pts):
    return list(pts) + [pts[0]]


# Each net: position (centre x, centre y, radius in px), contour lines, edge pieces, poles
NETS = [
    dict(pos=(270, 302, 249), big=True, poles=A_POLES,
         lines=[(A_RED_1, RED), (loop(A_RED_2), RED), (A_RED_3, RED), (A_MAG_1, MAGENTA), (A_MAG_2, MAGENTA),
                (loop(A_PUR_1), PURPLE), (A_PUR_2, PURPLE), (loop(A_BLU), BLUE), (loop(A_CYA), CYAN),
                (loop(A_GRN), GREEN)],
         edges=[(A_EDGE_MAG, MAGENTA), (A_EDGE_PUR, PURPLE)]),
    dict(pos=(687, 169.5, 116), big=False, poles=AN_POLES,
         lines=[(AN_RED, RED), (AN_MAG, MAGENTA), (AN_NAV, NAVY), (AN_CYA, CYAN), (loop(AN_GRN), GREEN)],
         edges=[(AN_EDGE_RED, RED), (AN_EDGE_MAG, MAGENTA)]),
    dict(pos=(687.5, 435, 116), big=False, poles=AS_POLES,
         lines=[(AS_RED_1, RED), (AS_RED_2, RED), (AS_MAG_1, MAGENTA), (AS_MAG_2, MAGENTA),
                (loop(AS_PUR_1), PURPLE), (loop(AS_PUR_2), PURPLE), (loop(AS_BLU), BLUE), (loop(AS_CYA), CYAN),
                (loop(AS_GRN), GREEN)],
         edges=[(AS_EDGE_RED, RED)]),
    dict(pos=(269, 894.5, 249), big=True, poles=B_POLES,
         lines=[(loop(B_RED), RED), (B_MAG_1, MAGENTA), (B_MAG_2, MAGENTA), (B_MAG_3, MAGENTA), (B_MAG_4, MAGENTA),
                (B_MAG_5, MAGENTA), (B_NAV_1, NAVY), (loop(B_NAV_2), NAVY), (loop(B_CYA_1), CYAN),
                (loop(B_CYA_2), CYAN), (loop(B_CYA_3), CYAN), (loop(B_GRN), GREEN)],
         edges=[(B_EDGE_NAV, NAVY), (B_EDGE_MAG, MAGENTA), (B_EDGE_RED, RED)]),
    dict(pos=(687, 761, 115.5), big=False, poles=BN_POLES,
         lines=[(BN_RED_1, RED), (BN_RED_2, RED), (BN_NAV_1, NAVY), (BN_NAV_2, NAVY), (loop(BN_GRN), GREEN)],
         edges=[(BN_EDGE_RED, RED), (BN_EDGE_NAV, NAVY)]),
    dict(pos=(687.5, 1024, 117), big=False, poles=BS_POLES,
         lines=[(loop(BS_RED_1), RED), (BS_RED_2, RED), (BS_RED_3, RED), (BS_MAG_1, MAGENTA), (BS_MAG_2, MAGENTA),
                (BS_PUR_1, PURPLE), (loop(BS_PUR_2), PURPLE), (loop(BS_BLU_1), BLUE), (loop(BS_BLU_2), BLUE),
                (loop(BS_CYA), CYAN), (loop(BS_GRN), GREEN)],
         edges=[(BS_EDGE_MAG, MAGENTA)]),
    dict(pos=(270, 1490, 251), big=True, poles=C_POLES,
         lines=[(C_RED, RED), (C_NAV, NAVY), (loop(C_GRN), GREEN)],
         edges=[(C_EDGE_RED, RED), (C_EDGE_NAV, NAVY)]),
    dict(pos=(688, 1360, 116.5), big=False, poles=CN_POLES,
         lines=[(CN_NAV, NAVY), (CN_RED, RED), (CN_GRN, GREEN)],
         edges=[(CN_EDGE_NAV, NAVY), (CN_EDGE_RED, RED)]),
    dict(pos=(689, 1622, 116), big=False, poles=CS_POLES,
         lines=[(CS_RED, RED), (CS_PUR, PURPLE2), (CS_BLU, BLUE2), (loop(CS_GRN), GREEN)],
         edges=[(CS_EDGE_RED, RED), (CS_EDGE_PUR, PURPLE2)]),
]

fig = go.Figure()
shapes = []
layout_axes = {}
PAD = 1.12

for i, net in enumerate(NETS):
    n = "" if i == 0 else str(i + 1)
    xref, yref = "x" + n, "y" + n
    cx, cy, r = net["pos"]
    px0, px1 = max(0.0, cx - PAD * r), min(W, cx + PAD * r)
    py0, py1 = max(0.0, cy - PAD * r), min(H, cy + PAD * r)
    layout_axes["xaxis" + n] = dict(domain=[px0 / W, px1 / W], range=[(px0 - cx) / r, (px1 - cx) / r],
                                    visible=False, fixedrange=True, showgrid=False, zeroline=False)
    layout_axes["yaxis" + n] = dict(domain=[1 - py1 / H, 1 - py0 / H], range=[(cy - py1) / r, (cy - py0) / r],
                                    visible=False, fixedrange=True, showgrid=False, zeroline=False)

    big = net["big"]
    lw = 2.3 if big else 2.0
    # contour lines
    for pts, col in net["lines"]:
        fig.add_trace(go.Scatter(x=[p[0] for p in pts], y=[p[1] for p in pts], mode="lines",
                                 line=dict(color=col, width=lw, shape="spline", smoothing=0.6),
                                 hoverinfo="skip", showlegend=False, xaxis=xref, yaxis=yref))
    for segs, col in net["edges"]:
        for seg in segs:
            fig.add_trace(go.Scatter(x=[p[0] for p in seg], y=[p[1] for p in seg], mode="lines",
                                     line=dict(color=col, width=lw), hoverinfo="skip", showlegend=False,
                                     xaxis=xref, yaxis=yref))
    # poles
    if big:
        marker = dict(symbol="cross-thin", size=10, line=dict(color=GREEN, width=2.4), color=GREEN)
    else:
        marker = dict(symbol="cross", size=5.5, color=GREEN, line=dict(width=0))
    fig.add_trace(go.Scatter(x=[p[0] for p in net["poles"]], y=[p[1] for p in net["poles"]], mode="markers",
                             marker=marker, cliponaxis=False, hoverinfo="skip", showlegend=False,
                             xaxis=xref, yaxis=yref))

    # primitive circle, cardinal ticks and centre cross
    cw = 2.6 if big else 2.4
    shapes.append(dict(type="circle", xref=xref, yref=yref, x0=-1, y0=-1, x1=1, y1=1,
                       line=dict(color=INK, width=cw), layer="below"))
    t = (7.0 if big else 4.5) / r
    c = (9.0 if big else 5.0) / r
    tw = 2.0 if big else 1.8
    for (x0, y0, x1, y1) in [(0, 1 - t, 0, 1 + t), (0, -1 - t, 0, -1 + t), (-1 - t, 0, -1 + t, 0),
                             (1 - t, 0, 1 + t, 0), (-c, 0, c, 0), (0, -c, 0, c)]:
        shapes.append(dict(type="line", xref=xref, yref=yref, x0=x0, y0=y0, x1=x1, y1=y1,
                           line=dict(color=INK, width=tw)))

# Text labels, positioned in page pixels
FONT = "Liberation Sans, Arial, Helvetica, sans-serif"
annotations = []


def label(px, py, text, size, color, anchor="left"):
    annotations.append(dict(x=px / W, y=1 - py / H, xref="paper", yref="paper", text=text, showarrow=False,
                            xanchor=anchor, yanchor="middle", align="left",
                            font=dict(family=FONT, size=size, color=color)))


label(51, 21, "Metamorphic Foliations (host and blocks)", 27, INK)
label(52, 613, "Magmatic Fabrics (all units)", 27, INK)
label(51, 1210, "Solid-state Foliation (in plutons)", 27, INK)
label(10, 63, "a", 37, INK)
label(10, 656, "b", 37, INK)
label(10, 1256, "c", 37, INK)

label(408, 64, "Lower Hem.", 14, NOTE_RED)
label(408, 539, "Total Data : 43", 15, NOTE_RED)
label(408, 553, "Equal Area", 15, NOTE_RED)
label(13, 556, "Kamb. Smooth - InvAreaSq", 15, NOTE_RED)
label(408, 1139, "Total Data : 62", 15, NOTE_RED)
label(408, 1729, "Total Data : 14", 14, NOTE_RED)

label(771, 65, "N of fault", 26, INK)
label(776, 313, "S of fault", 26, INK)
label(771, 659, "N of fault", 26, INK)
label(775, 920, "S of fault", 26, INK)
label(771, 1254, "N of fault", 26, INK)
label(777, 1505, "S of fault", 26, INK)

label(739, 283, "Total Data : 8", 15, NOTE_ORANGE)
label(739, 550, "Total Data : 35", 15, NOTE_ORANGE)
label(739, 877, "Total Data : 8", 15, NOTE_ORANGE)
label(739, 1139, "Total Data : 54", 15, NOTE_ORANGE)
label(742, 1474, "Total Data : 5", 15, NOTE_ORANGE)
label(742, 1729, "Total Data : 9", 14, NOTE_ORANGE)

fig.update_layout(width=W, height=H, margin=dict(l=0, r=0, t=0, b=0), paper_bgcolor="white",
                  plot_bgcolor="rgba(0,0,0,0)", shapes=shapes, annotations=annotations, showlegend=False,
                  **layout_axes)
fig.write_html("out.html")
